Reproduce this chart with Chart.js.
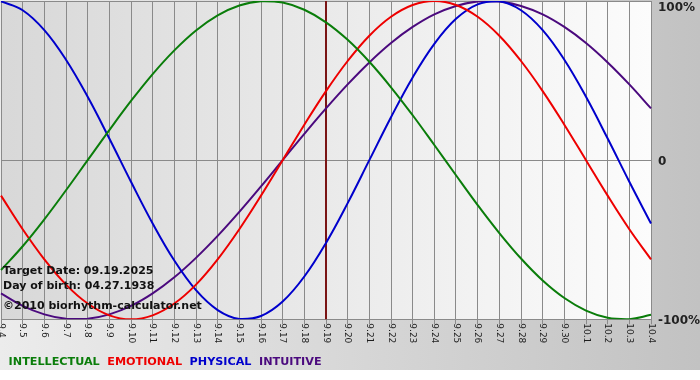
<!DOCTYPE html>
<html>
<head>
<meta charset="utf-8">
<script src="https://cdn.jsdelivr.net/npm/chart.js@4/dist/chart.umd.min.js"></script>
<style>
  html, body { margin: 0; padding: 0; background: #fff; }
  #wrap { width: 700px; height: 380px; }
</style>
</head>
<body>
<div id="wrap"><canvas id="bio"></canvas></div>
<script>
const days = ['9.4', '9.5', '9.6', '9.7', '9.8', '9.9', '9.10', '9.11', '9.12', '9.13', '9.14', '9.15',
    '9.16', '9.17', '9.18', '9.19', '9.20', '9.21', '9.22', '9.23', '9.24', '9.25', '9.26', '9.27',
    '9.28', '9.29', '9.30', '10.1', '10.2', '10.3', '10.4'];
const intellectual = [-69.0, -54.1, -37.2, -18.9, 0, 18.9, 37.2, 54.1, 69.0, 81.5, 91.0, 97.2, 99.9,
    99.0, 94.5, 86.6, 75.6, 61.8, 45.8, 28.2, 9.5, -9.5, -28.2, -45.8, -61.8, -75.6, -86.6, -94.5,
    -99.0, -99.9, -97.2];
const emotional = [-22.3, -43.4, -62.3, -78.2, -90.1, -97.5, -100, -97.5, -90.1, -78.2, -62.3, -43.4,
    -22.3, 0, 22.3, 43.4, 62.3, 78.2, 90.1, 97.5, 100, 97.5, 90.1, 78.2, 62.3, 43.4, 22.3, 0,
    -22.3, -43.4, -62.3];
const physical = [99.8, 94.2, 81.7, 63.1, 39.8, 13.6, -13.6, -39.8, -63.1, -81.7, -94.2, -99.8, -97.9,
    -88.8, -73.1, -52.0, -27.0, 0, 27.0, 52.0, 73.1, 88.8, 97.9, 99.8, 94.2, 81.7, 63.1, 39.8,
    13.6, -13.6, -39.8];
const intuitive = [-83.7, -91.6, -96.9, -99.7, -99.7, -96.9, -91.6, -83.7, -73.6, -61.4, -47.6, -32.5,
    -16.5, 0, 16.5, 32.5, 47.6, 61.4, 73.6, 83.7, 91.6, 96.9, 99.7, 99.7, 96.9, 91.6, 83.7, 73.6,
    61.4, 47.6, 32.5];
const yTicks = [-100, 0, 100];
const yTickLabels = ['-100%', '0', '100%'];
const todayLabel = '9.19';
const infoLines = ['Target Date: 09.19.2025', 'Day of birth: 04.27.1938', '\u00a92010 biorhythm-calculator.net'];

const FONT = 'DejaVu Sans';

// gray backdrop, lighter plot area
const backdrop = {
    id: 'backdrop',
    beforeDraw(chart) {
        const { ctx, chartArea: a, width, height } = chart;
        ctx.save();
        ctx.fillStyle = '#ffffff';
        ctx.fillRect(0, 0, width, height);
        let g = ctx.createLinearGradient(0, 0, width, 0);
        g.addColorStop(0, '#ececec');
        g.addColorStop(1, '#c2c2c2');
        ctx.fillStyle = g;
        ctx.fillRect(0, 0, width, height - 10);
        g = ctx.createLinearGradient(a.left, 0, a.right, 0);
        g.addColorStop(0, '#d8d8d8');
        g.addColorStop(1, '#fcfcfc');
        ctx.fillStyle = g;
        ctx.fillRect(a.left, a.top, a.right - a.left, a.bottom - a.top);
        ctx.restore();
    },
};

// marker for the target date
const todayLine = {
    id: 'todayLine',
    beforeDatasetsDraw(chart) {
        const { ctx, chartArea: a, scales } = chart;
        const x = scales.x.getPixelForValue(days.indexOf(todayLabel));
        ctx.save();
        ctx.strokeStyle = '#7a1414';
        ctx.lineWidth = 2;
        ctx.beginPath();
        ctx.moveTo(x, a.top);
        ctx.lineTo(x, a.bottom);
        ctx.stroke();
        ctx.restore();
    },
};

// x labels read top to bottom, plus the info text in the corner
const extraText = {
    id: 'extraText',
    afterDraw(chart) {
        const { ctx, chartArea: a, scales } = chart;
        ctx.save();
        ctx.fillStyle = '#1e1e1e';
        ctx.font = '9px "' + FONT + '"';
        ctx.textAlign = 'left';
        ctx.textBaseline = 'middle';
        days.forEach((d, i) => {
            const x = scales.x.getPixelForValue(i);
            ctx.save();
            ctx.translate(x, a.bottom + 4);
            ctx.rotate(Math.PI / 2);
            ctx.fillText(d, 0, 0);
            ctx.restore();
        });
        ctx.fillStyle = '#111111';
        ctx.font = 'bold 11px "' + FONT + '"';
        const offsets = [48, 33, 13];
        infoLines.forEach((t, i) => {
            ctx.fillText(t, a.left + 2, a.bottom - offsets[i]);
        });
        ctx.restore();
    },
};

const series = [
    { label: 'INTELLECTUAL', data: intellectual, color: '#0a7d0a' },
    { label: 'EMOTIONAL', data: emotional, color: '#ee0000' },
    { label: 'PHYSICAL', data: physical, color: '#0000cc' },
    { label: 'INTUITIVE', data: intuitive, color: '#4b0a7e' },
];

new Chart(document.getElementById('bio').getContext('2d'), {
    type: 'line',
    data: {
        labels: days,
        datasets: series.map((s) => ({
            label: s.label,
            data: s.data,
            borderColor: s.color,
            backgroundColor: s.color,
            borderWidth: 2,
            pointRadius: 0,
            fill: false,
            tension: 0.4,
        })),
    },
    options: {
        responsive: true,
        maintainAspectRatio: false,
        animation: false,
        layout: { padding: { left: 1, top: 1, right: 0, bottom: 2.5 } },
        plugins: {
            tooltip: { enabled: false },
            legend: {
                position: 'bottom',
                align: 'start',
                labels: {
                    boxWidth: 0,
                    boxHeight: 0,
                    padding: 2,
                    font: { family: FONT, size: 11.2, weight: 'bold' },
                    generateLabels: (chart) => chart.data.datasets.map((ds, i) => ({
                        text: ds.label,
                        fontColor: ds.borderColor,
                        fillStyle: 'transparent',
                        strokeStyle: 'transparent',
                        lineWidth: 0,
                        hidden: false,
                        datasetIndex: i,
                    })),
                },
            },
        },
        scales: {
            x: {
                type: 'category',
                offset: false,
                grid: { color: '#8a8a8a', tickLength: 5 },
                border: { color: '#8a8a8a' },
                ticks: { display: false },
                afterFit: (s) => { s.height = 35; },
            },
            y: {
                position: 'right',
                min: -100,
                max: 100,
                afterBuildTicks: (s) => { s.ticks = yTicks.map((v) => ({ value: v })); },
                grid: { color: '#8a8a8a', drawTicks: false },
                border: { color: '#8a8a8a' },
                ticks: {
                    padding: 7,
                    labelOffset: 2,
                    color: '#222222',
                    font: (c) => ({
                        family: FONT,
                        size: 12,
                        weight: 'bold',
                        lineHeight: c.tick && c.tick.value === 100 ? '10px' : 1.2,
                    }),
                    callback: (v) => {
                        const lab = yTickLabels[yTicks.indexOf(v)];
                        return v === 100 ? ['', lab] : lab;
                    },
                },
                afterFit: (s) => { s.width = 49; s.paddingTop = 0; s.paddingBottom = 0; },
            },
        },
    },
    plugins: [backdrop, todayLine, extraText],
});
</script>
</body>
</html>
